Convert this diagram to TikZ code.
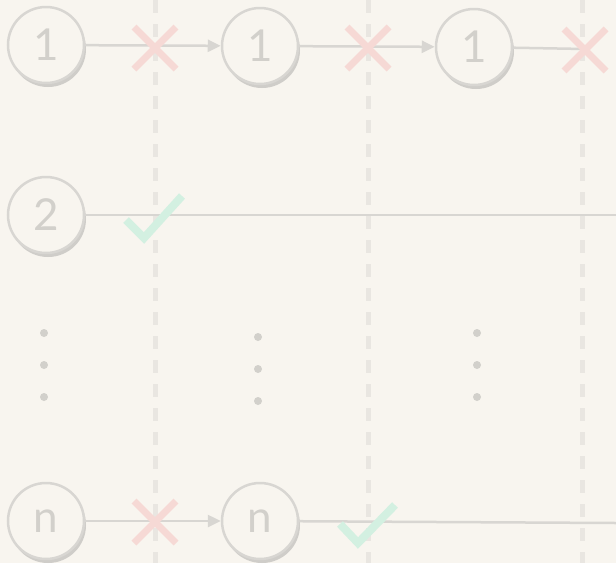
\documentclass[tikz,border=0pt]{standalone}
\usepackage{fontspec}
\setmainfont{Lato}
\usetikzlibrary{arrows.meta,shadows}

\definecolor{bgcol}{HTML}{F8F5EF}
\definecolor{ringcol}{HTML}{D8D6D2}
\definecolor{shadecol}{HTML}{CFCDC9}
\definecolor{textcol}{HTML}{D2D0CB}
\definecolor{gridcol}{HTML}{E9E6E1}
\definecolor{failcol}{HTML}{F6D9D5}
\definecolor{okcol}{HTML}{D3F0E1}

\begin{document}
\begin{tikzpicture}[x=1pt, y=-1pt,
				every node/.style={circle, draw=ringcol, line width=2.5pt, fill=bgcol,
					minimum size=76pt, inner sep=0pt, text=textcol,
					font=\fontsize{44}{44}\selectfont,
					drop shadow={shadow xshift=2pt, shadow yshift=-4pt, fill=shadecol, opacity=1}},
				conn/.style={draw=ringcol, line width=2.5pt},
				grid/.style={draw=gridcol, line width=5pt, dash pattern=on 12.5pt off 11.5pt},
				xmark/.style={draw=failcol, line width=7pt},
				tick/.style={draw=okcol, line width=8pt}
				]
				\useasboundingbox[fill=bgcol] (0,0) rectangle (616,563);
				% separators
				\foreach \x in {155,368,582}
					\draw[grid] (\x,0) -- (\x,563);
				% retries
				\node (a1) at (46,45) {1};
				\node (a2) at (260,46) {1};
				\node (a3) at (474,47) {1};
				\node (b1) at (46,215) {2};
				\node (n1) at (46,521) {n};
				\node (n2) at (260,521) {n};
				\coordinate (a4) at (585,49);
				\coordinate (b2) at (616,215);
				\coordinate (n3) at (616,523);
				\draw[conn, -{Triangle[length=13pt,width=12pt]}] (a1) -- (a2);
				\draw[conn, -{Triangle[length=13pt,width=12pt]}] (a2) -- (a3);
				\draw[conn] (a3) -- (a4);
				\draw[conn] (b1) -- (b2);
				\draw[conn, -{Triangle[length=13pt,width=12pt]}] (n1) -- (n2);
				\draw[conn] (n2) -- (n3);
				% failures
				\foreach \x/\y in {155/48, 368/48, 585/50, 155/522}
					\draw[xmark] (\x-21,\y-21) -- (\x+21,\y+21) (\x-21,\y+21) -- (\x+21,\y-21);
				% successes
				\draw[tick] (126,220) -- (144,238) -- (182,196);
				\draw[tick] (340,524) -- (358,543) -- (395,505);
				% more rows
				\foreach \x/\y in {44/333, 258/337, 477/333}
					\foreach \d in {0,32,64}
						\fill[textcol] (\x,\y+\d) circle (4pt);
			\end{tikzpicture}
\end{document}
